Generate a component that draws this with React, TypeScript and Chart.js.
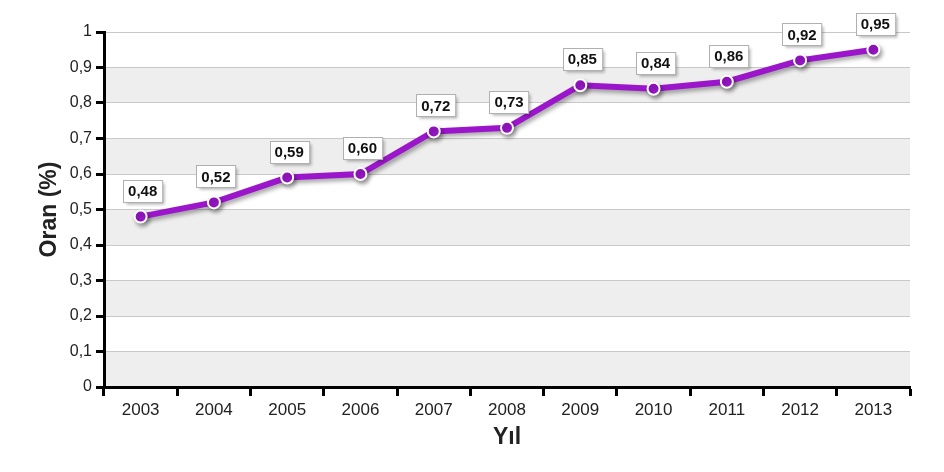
import React, { useEffect, useRef } from "react";
import { Chart, registerables } from "chart.js";

Chart.register(...registerables);

const years = ["2003", "2004", "2005", "2006", "2007", "2008", "2009", "2010", "2011", "2012", "2013"];
const rates = [0.48, 0.52, 0.59, 0.6, 0.72, 0.73, 0.85, 0.84, 0.86, 0.92, 0.95];
const yTitle = "Oran (%)";
const xTitle = "Yıl";

const FONT = "'Liberation Sans', Arial, sans-serif";
const LINE_COLOR = "#9b16cb";

const fmt = (v: number, d: number) => v.toFixed(d).replace(".", ",");

const bandsPlugin = {
  id: "bands",
  beforeDraw(chart: any) {
    const { ctx, chartArea } = chart;
    const y = chart.scales.y;
    ctx.save();
    ctx.fillStyle = "#ffffff";
    ctx.fillRect(chartArea.left, chartArea.top, chartArea.right - chartArea.left, chartArea.bottom - chartArea.top);
    ctx.fillStyle = "#eeeeee";
    for (let i = 0; i < 10; i += 2) {
      const p0 = y.getPixelForValue(i / 10);
      const p1 = y.getPixelForValue((i + 1) / 10);
      ctx.fillRect(chartArea.left, p1, chartArea.right - chartArea.left, p0 - p1);
    }
    ctx.restore();
  },
};

const shadowPlugin = {
  id: "lineShadow",
  beforeDatasetDraw(chart: any) {
    const ctx = chart.ctx;
    ctx.save();
    ctx.shadowColor = "rgba(0,0,0,0.35)";
    ctx.shadowBlur = 4;
    ctx.shadowOffsetX = 2;
    ctx.shadowOffsetY = 3;
  },
  afterDatasetDraw(chart: any) {
    chart.ctx.restore();
  },
};

const labelPlugin = {
  id: "valueLabels",
  afterDatasetsDraw(chart: any) {
    const ctx = chart.ctx;
    const meta = chart.getDatasetMeta(0);
    ctx.save();
    ctx.font = `bold 15px ${FONT}`;
    ctx.textAlign = "center";
    ctx.textBaseline = "middle";
    meta.data.forEach((pt: any, i: number) => {
      const text = fmt(rates[i], 2);
      const w = ctx.measureText(text).width + 10;
      const h = 22;
      const cx = pt.x + 2;
      const bottom = pt.y - 15;
      const x0 = Math.round(cx - w / 2) + 0.5;
      const y0 = Math.round(bottom - h) + 0.5;
      ctx.save();
      ctx.shadowColor = "rgba(0,0,0,0.3)";
      ctx.shadowBlur = 3;
      ctx.shadowOffsetX = 2;
      ctx.shadowOffsetY = 2;
      ctx.fillStyle = "#ffffff";
      ctx.fillRect(x0, y0, w, h);
      ctx.restore();
      ctx.strokeStyle = "#b0b0b0";
      ctx.lineWidth = 1;
      ctx.strokeRect(x0, y0, w, h);
      ctx.fillStyle = "#111";
      ctx.fillText(text, cx, bottom - h / 2 + 1);
    });
    ctx.restore();
  },
};

export default function App() {
  const ref = useRef<HTMLCanvasElement>(null);
  useEffect(() => {
    if (!ref.current) return;
    const chart = new Chart(ref.current, {
      type: "line",
      data: {
        labels: years,
        datasets: [
          {
            data: rates,
            borderColor: LINE_COLOR,
            borderWidth: 6,
            pointRadius: 6,
            pointBackgroundColor: LINE_COLOR,
            pointBorderColor: "#ffffff",
            pointBorderWidth: 2,
            tension: 0,
            fill: false,
          },
        ],
      },
      options: {
        responsive: false,
        animation: false,
        layout: { padding: { top: 32, right: 34, left: 0, bottom: 0 } },
        plugins: { legend: { display: false }, tooltip: { enabled: false } },
        scales: {
          x: {
            offset: true,
            afterFit: (s: any) => {
              s.height = 85;
            },
            grid: {
              offset: true,
              drawOnChartArea: false,
              drawTicks: true,
              tickColor: "#000",
              tickWidth: 3,
              tickLength: 9,
            },
            border: { color: "#000", width: 3 },
            ticks: { color: "#222", font: { family: FONT, size: 17 }, padding: 4, maxRotation: 0 },
            title: {
              display: true,
              text: xTitle,
              color: "#222",
              font: { family: FONT, size: 23, weight: "bold" },
              padding: { top: 0, bottom: 21 },
            },
          },
          y: {
            min: 0,
            max: 1,
            afterFit: (s: any) => {
              s.width = 104;
            },
            grid: {
              color: "#c8c8c8",
              lineWidth: 1,
              drawTicks: true,
              tickColor: "#000",
              tickWidth: 3,
              tickLength: 8,
            },
            border: { color: "#000", width: 3 },
            ticks: {
              stepSize: 0.1,
              color: "#222",
              font: { family: FONT, size: 16 },
              padding: 4,
              callback: (v: any) => {
                const n = Number(v);
                if (Math.abs(n) < 1e-9) return "0";
                if (Math.abs(n - 1) < 1e-9) return "1";
                return fmt(n, 1);
              },
            },
            title: {
              display: true,
              text: yTitle,
              color: "#222",
              font: { family: FONT, size: 23, weight: "bold" },
              padding: { top: 36, bottom: 0 },
            },
          },
        },
      },
      plugins: [bandsPlugin, shadowPlugin, labelPlugin],
    });
    return () => chart.destroy();
  }, []);
  return (
    <div style={{ position: "fixed", left: 0, top: 0, width: 944, height: 472, background: "#fff" }}>
      <canvas ref={ref} width={944} height={472} />
    </div>
  );
}
